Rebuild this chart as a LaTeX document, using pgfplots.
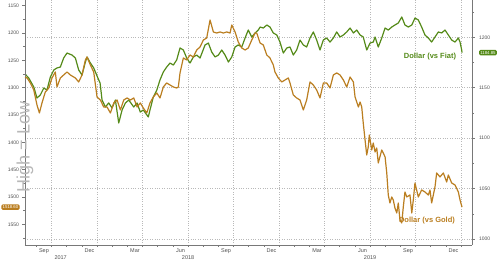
\documentclass[border=0pt]{standalone}
\usepackage{pgfplots}
\pgfplotsset{compat=1.18}
\usepackage{fontspec}
\setmainfont{Liberation Sans}
\definecolor{fiat}{RGB}{84,138,24}
\definecolor{gold}{RGB}{186,126,32}
\definecolor{gridc}{RGB}{185,185,185}
\definecolor{axc}{RGB}{120,120,120}
\definecolor{txtc}{RGB}{80,80,80}
\begin{document}
\begin{tikzpicture}
\pgfplotsset{
  base/.style={
    scale only axis, width=447pt, height=245pt,
    at={(0,0)}, anchor=south west,
    xmin=7.25, xmax=36.72,
    clip=false,
    /pgf/number format/assume math mode=true,
    /pgf/number format/1000 sep={},
    tick label style={font=\fontsize{5}{6}\selectfont, text=txtc},
    axis line style={draw=axc, line width=0.6pt},
    tick style={draw=axc, line width=0.5pt},
    tick align=outside,
    major tick length=2.5pt, minor tick length=1.5pt,
  }
}
% ---------- Dollar vs Fiat (right axis) ----------
\begin{axis}[base,
  ymin=994.05, ymax=1237.0,
  axis y line*=right, axis x line*=bottom,
  ytick={1000,1050,...,1200},
  minor ytick={1025,1075,...,1225},
  ymajorgrids,
  major grid style={draw=gridc, dotted, line width=0.6pt},
  xtick=\empty,
  extra x ticks={9,12,...,36},
  extra x tick labels={},
  extra x tick style={grid=major, major tick length=0pt},
  yticklabel style={xshift=1pt},
]
\addplot[fiat, line width=1.2pt, line join=round] coordinates {
(7.25,1163.6)(7.50,1159.6)(7.83,1150.7)(8.04,1139.8)(8.26,1142.8)(8.49,1149.7)(8.70,1147.7)(8.92,1160.6)(9.15,1167.6)(9.36,1169.6)(9.58,1170.5)(9.80,1179.5)(10.02,1184.4)(10.35,1182.4)(10.57,1179.5)(10.79,1167.6)(11.01,1162.6)(11.23,1175.5)(11.34,1180.5)(11.56,1174.5)(11.78,1169.6)(12.11,1157.7)(12.20,1154.7)(12.33,1137.8)(12.55,1130.9)(12.77,1134.9)(12.99,1129.9)(13.21,1137.8)(13.43,1115.0)(13.65,1127.9)(13.87,1134.9)(14.09,1137.8)(14.42,1130.9)(14.64,1134.9)(14.85,1125.9)(15.05,1127.9)(15.38,1121.0)(15.49,1127.9)(15.71,1140.8)(15.94,1147.7)(16.15,1157.7)(16.37,1165.6)(16.59,1170.5)(16.81,1174.5)(17.03,1172.5)(17.25,1177.5)(17.47,1189.4)(17.69,1187.4)(17.91,1179.5)(18.13,1174.5)(18.35,1180.5)(18.57,1182.4)(18.79,1179.5)(19.12,1192.4)(19.34,1194.3)(19.56,1185.4)(19.78,1180.5)(20.00,1182.4)(20.22,1187.4)(20.44,1182.4)(20.66,1175.5)(20.88,1180.5)(21.10,1190.4)(21.31,1192.4)(21.54,1190.4)(21.76,1199.3)(21.97,1207.2)(22.20,1200.3)(22.42,1204.3)(22.63,1207.2)(22.75,1210.2)(22.96,1209.2)(23.19,1212.2)(23.40,1210.2)(23.62,1204.3)(23.85,1202.3)(24.06,1195.3)(24.28,1184.4)(24.51,1189.4)(24.72,1190.4)(24.94,1182.4)(25.16,1187.4)(25.38,1197.3)(25.60,1192.4)(25.82,1190.4)(26.04,1199.3)(26.26,1205.3)(26.48,1197.3)(26.70,1187.4)(26.92,1197.3)(27.14,1199.3)(27.36,1195.3)(27.58,1199.3)(27.80,1205.3)(28.02,1200.3)(28.24,1202.3)(28.46,1205.3)(28.68,1209.2)(28.90,1204.3)(29.12,1207.2)(29.34,1202.3)(29.55,1200.3)(29.78,1187.4)(30.00,1194.3)(30.21,1195.3)(30.33,1200.3)(30.54,1190.4)(30.77,1199.3)(30.99,1209.2)(31.20,1207.2)(31.43,1210.2)(31.64,1212.2)(31.86,1214.2)(32.09,1220.1)(32.30,1212.2)(32.52,1210.2)(32.75,1212.2)(32.96,1219.1)(33.18,1217.2)(33.40,1210.2)(33.62,1202.3)(33.84,1199.3)(34.06,1195.3)(34.28,1200.3)(34.50,1205.3)(34.72,1204.3)(34.94,1207.2)(35.16,1202.3)(35.38,1197.3)(35.60,1195.3)(35.82,1199.3)(35.93,1195.3)(36.04,1187.4)(36.06,1184.85)
};
\node[font=\bfseries\fontsize{7.5}{8}\selectfont, text=fiat] at (axis cs:33.95,1180.5) {Dollar (vs Fiat)};
\node[fill=fiat, text=white, rounded corners=1.5pt, inner sep=1.3pt, font=\fontsize{4.3}{5}\selectfont]
  at ({rel axis cs:1,0}|-{axis cs:30,1184.85}) [xshift=16pt] {1184.85};
\end{axis}
% ---------- Dollar vs Gold (left axis, inverted) ----------
\begin{axis}[base,
  ymin=1139.6, ymax=1587.9, y dir=reverse,
  axis y line*=left, axis x line*=bottom,
  ytick={1150,1200,...,1550},
  minor ytick={1175,1225,...,1575},
  xtick={8.5,11.5,...,35.5},
  xticklabels={Sep,Dec,Mar,Jun,Sep,Dec,Mar,Jun,Sep,Dec},
  minor xtick={8,...,36},
  major x tick style={draw=none},
  xticklabel style={font=\fontsize{5.5}{6}\selectfont, inner sep=1pt},
]
\addplot[gold, line width=1.2pt, line join=round] coordinates {
(7.25,1281)(7.39,1282.3)(7.60,1291.4)(7.83,1304.3)(8.04,1331.7)(8.20,1346.3)(8.37,1328.0)(8.59,1307.9)(8.82,1300.6)(9.03,1282.3)(9.25,1271.3)(9.36,1298.8)(9.58,1282.3)(9.80,1276.8)(10.02,1271.3)(10.24,1276.8)(10.57,1282.3)(10.79,1289.6)(11.01,1276.8)(11.23,1249.4)(11.34,1243.9)(11.56,1258.5)(11.78,1271.3)(12.00,1317.1)(12.22,1322.6)(12.44,1335.4)(12.66,1335.4)(12.88,1346.3)(13.10,1328.0)(13.32,1322.6)(13.54,1340.8)(13.76,1322.6)(13.98,1318.9)(14.20,1322.6)(14.42,1318.9)(14.64,1335.4)(14.85,1328.0)(15.05,1337.2)(15.28,1346.3)(15.49,1328.0)(15.71,1317.1)(15.94,1309.7)(16.15,1318.9)(16.37,1298.8)(16.59,1291.4)(16.81,1295.1)(17.03,1298.8)(17.25,1300.6)(17.36,1298.8)(17.47,1273.1)(17.69,1245.7)(17.91,1249.4)(18.13,1240.2)(18.35,1243.9)(18.57,1231.1)(18.79,1225.6)(19.01,1212.8)(19.23,1209.1)(19.45,1176.2)(19.67,1198.1)(19.89,1200.0)(20.11,1198.1)(20.33,1200.0)(20.55,1198.1)(20.77,1200.0)(20.88,1185.3)(21.10,1198.1)(21.31,1216.4)(21.54,1227.4)(21.76,1231.1)(21.97,1227.4)(22.20,1212.8)(22.42,1200.0)(22.53,1200.0)(22.75,1218.3)(22.96,1221.9)(23.19,1240.2)(23.40,1245.7)(23.62,1258.5)(23.73,1271.3)(23.95,1282.3)(24.18,1289.6)(24.39,1286.0)(24.61,1282.3)(24.72,1291.4)(24.94,1313.4)(25.16,1318.9)(25.38,1322.6)(25.60,1340.8)(25.82,1322.6)(26.04,1289.6)(26.26,1295.1)(26.48,1304.3)(26.70,1318.9)(26.92,1291.4)(27.14,1291.4)(27.36,1300.6)(27.58,1276.8)(27.80,1273.1)(28.02,1276.8)(28.24,1286.0)(28.46,1298.8)(28.68,1280.5)(28.90,1289.6)(29.01,1317.1)(29.23,1335.4)(29.34,1326.2)(29.45,1335.4)(29.55,1364.6)(29.67,1395.7)(29.78,1423.2)(29.88,1408.5)(29.95,1386.6)(30.11,1414.0)(30.21,1401.2)(30.33,1417.7)(30.44,1410.4)(30.54,1437.8)(30.77,1414.0)(30.87,1419.5)(30.99,1426.8)(31.10,1456.1)(31.20,1496.4)(31.31,1511.0)(31.43,1500.0)(31.53,1505.5)(31.64,1520.2)(31.76,1529.3)(31.86,1511.0)(31.97,1542.1)(32.09,1547.6)(32.19,1518.3)(32.30,1490.9)(32.42,1500.0)(32.63,1496.4)(32.75,1529.3)(32.85,1505.5)(32.96,1474.4)(33.18,1500.0)(33.40,1487.2)(33.62,1490.9)(33.84,1496.4)(33.95,1487.2)(34.06,1511.0)(34.28,1481.7)(34.39,1456.1)(34.61,1463.4)(34.83,1456.1)(35.05,1472.6)(35.16,1459.8)(35.38,1474.4)(35.60,1478.1)(35.82,1490.9)(35.93,1505.5)(36.04,1516.5)(36.06,1518.6)
};
\node[font=\bfseries\fontsize{7.5}{8}\selectfont, text=gold] at (axis cs:33.75,1544) {Dollar (vs Gold)};
\node[fill=gold, text=white, rounded corners=1.5pt, inner sep=1.3pt, font=\fontsize{4.3}{5}\selectfont]
  at ({rel axis cs:0,0}|-{axis cs:20,1518.6}) [xshift=-14.5pt] {1518.60};
\node[rotate=90, text=black!28, font=\fontsize{18}{18}\selectfont] at (rel axis cs:0,0.465) [xshift=-16pt] {High = Low};
% year labels and separators
\node[font=\fontsize{5.5}{6}\selectfont, text=txtc] at (rel axis cs:0.0797,0) [yshift=-12.5pt] {2017};
\node[font=\fontsize{5.5}{6}\selectfont, text=txtc] at (rel axis cs:0.3648,0) [yshift=-12.5pt] {2018};
\node[font=\fontsize{5.5}{6}\selectfont, text=txtc] at (rel axis cs:0.772,0) [yshift=-12.5pt] {2019};
\draw[axc, line width=0.5pt] (rel axis cs:0.1612,0) ++(0,-8pt) -- ++(0,-9pt);
\draw[axc, line width=0.5pt] (rel axis cs:0.5684,0) ++(0,-8pt) -- ++(0,-9pt);
\draw[axc, line width=0.5pt] (rel axis cs:0.9756,0) ++(0,-8pt) -- ++(0,-9pt);
\end{axis}
\pgfresetboundingbox
\path[use as bounding box] (-25pt,-16pt) rectangle (475pt,245pt);
\end{tikzpicture}
\end{document}
